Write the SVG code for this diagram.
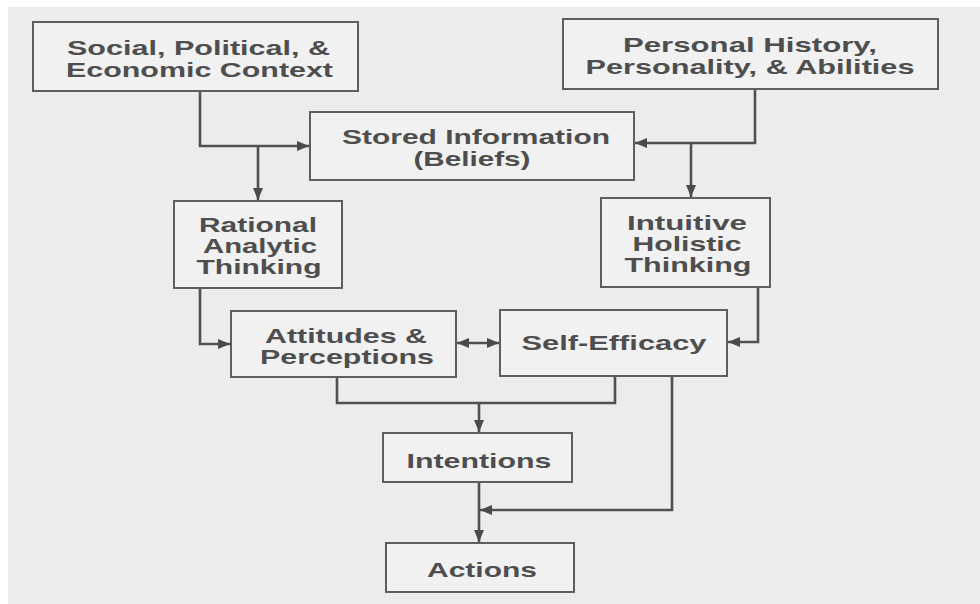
<svg xmlns="http://www.w3.org/2000/svg" width="980" height="604" viewBox="0 0 980 604">
<style>
.box{fill:#f1f1f1;stroke:#5e5e5e;stroke-width:2}
.t{font-family:"Liberation Sans",Arial,sans-serif;font-weight:bold;font-size:21px;fill:#4e4e4e;text-anchor:middle}
.c{fill:none;stroke:#505050;stroke-width:2.6}
</style>
<defs>
<marker id="ah" markerUnits="userSpaceOnUse" markerWidth="14" markerHeight="12" refX="12" refY="6" orient="auto-start-reverse">
<path d="M0,1 L12,6 L0,11 Z" fill="#4a4a4a"/>
</marker>
</defs>
<rect x="0" y="0" width="980" height="604" fill="#ffffff"/>
<rect x="8" y="7" width="972" height="597" fill="#ececec"/>
<g id="connectors">
<path class="c" d="M200 91 V146 H309" marker-end="url(#ah)"/>
<path class="c" d="M258 146 V200" marker-end="url(#ah)"/>
<path class="c" d="M755 89 V143 H635" marker-end="url(#ah)"/>
<path class="c" d="M691 143 V197" marker-end="url(#ah)"/>
<path class="c" d="M200 288 V344 H230" marker-end="url(#ah)"/>
<path class="c" d="M758 287 V342 H728" marker-end="url(#ah)"/>
<path class="c" d="M457 343 H499" marker-start="url(#ah)" marker-end="url(#ah)"/>
<path class="c" d="M337 377 V403 H615 V376"/>
<path class="c" d="M479 403 V432" marker-end="url(#ah)"/>
<path class="c" d="M672 376 V510 H480" marker-end="url(#ah)"/>
<path class="c" d="M479 482 V542" marker-end="url(#ah)"/>
</g>
<g id="social">
<rect class="box" x="33" y="22" width="325" height="69"/>
<text class="t" x="198.5" y="55" textLength="263" lengthAdjust="spacingAndGlyphs">Social, Political, &amp;</text>
<text class="t" x="199.5" y="77" textLength="267" lengthAdjust="spacingAndGlyphs">Economic Context</text>
</g>
<g id="personal">
<rect class="box" x="563" y="19" width="375" height="70"/>
<text class="t" x="750" y="52" textLength="254" lengthAdjust="spacingAndGlyphs">Personal History,</text>
<text class="t" x="750" y="74" textLength="329" lengthAdjust="spacingAndGlyphs">Personality, &amp; Abilities</text>
</g>
<g id="stored">
<rect class="box" x="310" y="112" width="324" height="68"/>
<text class="t" x="476" y="144" textLength="268" lengthAdjust="spacingAndGlyphs">Stored Information</text>
<text class="t" x="472" y="166" textLength="117" lengthAdjust="spacingAndGlyphs">(Beliefs)</text>
</g>
<g id="rational">
<rect class="box" x="174" y="201" width="168" height="87"/>
<text class="t" x="258" y="232" textLength="118" lengthAdjust="spacingAndGlyphs">Rational</text>
<text class="t" x="260" y="253" textLength="114" lengthAdjust="spacingAndGlyphs">Analytic</text>
<text class="t" x="259" y="274" textLength="125" lengthAdjust="spacingAndGlyphs">Thinking</text>
</g>
<g id="intuitive">
<rect class="box" x="601" y="198" width="169" height="89"/>
<text class="t" x="687" y="230" textLength="120" lengthAdjust="spacingAndGlyphs">Intuitive</text>
<text class="t" x="687" y="251" textLength="109" lengthAdjust="spacingAndGlyphs">Holistic</text>
<text class="t" x="688" y="272" textLength="127" lengthAdjust="spacingAndGlyphs">Thinking</text>
</g>
<g id="attitudes">
<rect class="box" x="231" y="311" width="225" height="66"/>
<text class="t" x="346" y="343" textLength="162" lengthAdjust="spacingAndGlyphs">Attitudes &amp;</text>
<text class="t" x="347" y="364" textLength="174" lengthAdjust="spacingAndGlyphs">Perceptions</text>
</g>
<g id="selfefficacy">
<rect class="box" x="500" y="310" width="227" height="66"/>
<text class="t" x="614" y="350" textLength="185" lengthAdjust="spacingAndGlyphs">Self-Efficacy</text>
</g>
<g id="intentions">
<rect class="box" x="383" y="433" width="189" height="49"/>
<text class="t" x="479" y="468" textLength="145" lengthAdjust="spacingAndGlyphs">Intentions</text>
</g>
<g id="actions">
<rect class="box" x="386" y="543" width="188" height="49"/>
<text class="t" x="482" y="577" textLength="110" lengthAdjust="spacingAndGlyphs">Actions</text>
</g>
</svg>
